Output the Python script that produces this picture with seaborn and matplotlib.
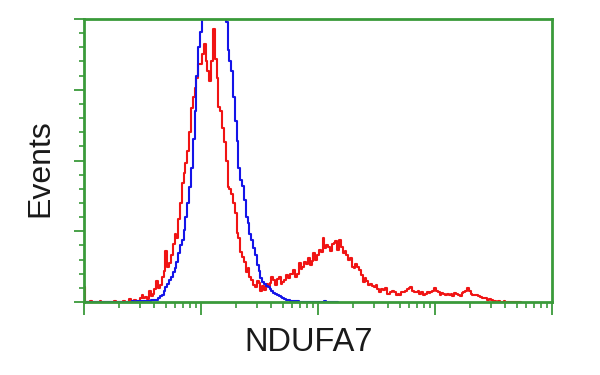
import numpy as np
import pandas as pd
import matplotlib
matplotlib.use("Agg")
import matplotlib.pyplot as plt
import seaborn as sns
from matplotlib.ticker import LogLocator, MultipleLocator, NullFormatter

# ---- data: flow cytometry histogram, counts per channel (256 channels over 4 log decades)
red_counts = [
    10.6, 0, 0, 0, 1, 0, 0, 0, 0, 0.8, 0, 0, 0, 0, 0, 0, 0, 0.5, 0, 0,
    0, 0, 1, 0, 0.3, 2, 0.5, 0.8, 1.5, 0.5, 0.5, 3, 5, 2.5, 3.5, 2, 8, 4.5, 6, 9,
    15, 10, 12, 17.6, 22, 36, 25, 27.5, 33, 41, 48, 45, 59, 70, 84, 91.5, 98, 107, 120, 137,
    145, 151, 158, 168, 168, 175, 182, 170, 163, 156, 170, 193, 172, 158, 138, 135, 123, 113, 100, 81,
    80, 76, 70, 63, 49, 45, 35, 32, 28, 21, 24, 18, 15.5, 12, 10.6, 15, 13.4, 8, 11, 8.5,
    13, 11, 13.4, 17.6, 15.5, 12, 16, 17.6, 13, 14, 15.5, 19, 17, 19.7, 20, 22.5, 18, 20, 27.5, 23,
    25, 28, 27, 31, 26, 29, 34.5, 30, 33, 36.6, 35, 45, 38, 40, 38.7, 36, 41, 41.5, 43, 37,
    43.6, 39, 34.5, 36, 33, 29.5, 31, 25, 24, 27, 25, 22.5, 19, 14, 17, 15, 12, 13, 11, 10.6,
    12, 9, 7, 9, 8.5, 10, 6, 6, 7, 8, 7, 5, 6, 5, 7, 7, 8, 9, 10, 10.6,
    8, 7, 7, 8, 6, 7, 5, 6, 7, 6.3, 7, 8, 10, 8, 7, 5, 6.3, 6, 5, 6,
    5, 6, 4.5, 6.3, 6, 5, 4, 6.3, 7, 8, 10, 8, 6, 5, 5, 5, 4, 3.5, 3, 3,
    2.5, 1.4, 2, 1.5, 1, 0.7, 0.3, 0.5, 0, 0, 0.5, 0, 0, 0, 0, 0, 0, 0, 0, 0,
]
blue_counts = [
    0, 0, 0, 0, 0, 0, 0, 0, 0, 0, 0, 0, 0, 0, 0, 0, 0, 0, 0, 0,
    0, 0, 0, 0.3, 0, 0.3, 0, 0.5, 0.3, 0.5, 0.5, 0.8, 0.5, 1, 0.8, 1, 1, 1.2, 1.5, 1.2,
    1.4, 3, 4, 5, 8, 10.6, 13, 15.5, 18, 21, 24, 28, 34.5, 40, 43.6, 50.7, 60, 70, 81, 95,
    115, 135, 160, 180, 191, 200, 210, 220, 228, 235, 240, 240, 238, 235, 228, 220, 212, 205, 198, 178,
    170, 163, 145, 128, 114, 95, 86, 82, 72, 60, 56, 48, 43.6, 38, 33, 26, 22, 17, 14, 13,
    11, 10.6, 9, 8, 6.5, 5.6, 5, 4, 3.5, 3, 2, 1.4, 1.2, 1, 0.8, 0.7, 0.5, 0.5, 0.3, 0.3,
    0.2, 0, 0, 0, 0, 0, 0, 0, 0, 0, 0, 0, 0.5, 0, 0, 0, 0, 0, 0, 0,
]
channels_per_decade = 64
x_label = "NDUFA7"
y_label = "Events"

def to_frame(counts, name):
    ch = np.arange(len(counts))
    return pd.DataFrame({"intensity": 10.0 ** (ch / channels_per_decade),
                         "events": counts, "sample": name})

df = pd.concat([to_frame(red_counts, "stained"), to_frame(blue_counts, "control")],
               ignore_index=True)

sns.set_theme(style="white")
plt.rcParams["font.family"] = ["Liberation Sans", "DejaVu Sans"]

green = "#3a9a3a"
fig = plt.figure(figsize=(6, 3.75), dpi=100)
ax = fig.add_axes([84 / 600, 1 - 302 / 375, (552 - 84) / 600, (302 - 19) / 375])

sns.lineplot(data=df, x="intensity", y="events", hue="sample",
             palette={"stained": "#f01414", "control": "#1414e8"},
             estimator=None, drawstyle="steps-mid", linewidth=1.5,
             legend=False, ax=ax)

ax.set_xscale("log")
ax.set_xlim(1, 1e4)
ax.set_ylim(0, 200)

ax.xaxis.set_major_locator(LogLocator(base=10, numticks=10))
ax.xaxis.set_minor_locator(LogLocator(base=10, subs=np.arange(2, 10), numticks=20))
ax.xaxis.set_major_formatter(NullFormatter())
ax.xaxis.set_minor_formatter(NullFormatter())
ax.yaxis.set_major_locator(MultipleLocator(50))
ax.yaxis.set_minor_locator(MultipleLocator(10))
ax.yaxis.set_major_formatter(NullFormatter())

ax.tick_params(axis="x", which="major", direction="out", length=9, width=1.3, color=green, bottom=True)
ax.tick_params(axis="x", which="minor", direction="out", length=4, width=1.2, color=green, bottom=True)
ax.tick_params(axis="y", which="major", direction="out", length=7, width=1.3, color=green, left=True)
ax.tick_params(axis="y", which="minor", direction="out", length=3.5, width=1.2, color=green, left=True)

for side, sp in ax.spines.items():
    sp.set_visible(True)
    sp.set_color(green)
    sp.set_linewidth(2.0)

ax.set_xlabel(x_label, fontsize=23.5, color="#1a1a1a", va="center")
ax.set_ylabel(y_label, fontsize=23, color="#1a1a1a", va="center")
ax.xaxis.set_label_coords(0.479, -0.143)
ax.yaxis.set_label_coords(-0.093, 0.473)

fig.savefig("out.png", dpi=100, facecolor="white")
